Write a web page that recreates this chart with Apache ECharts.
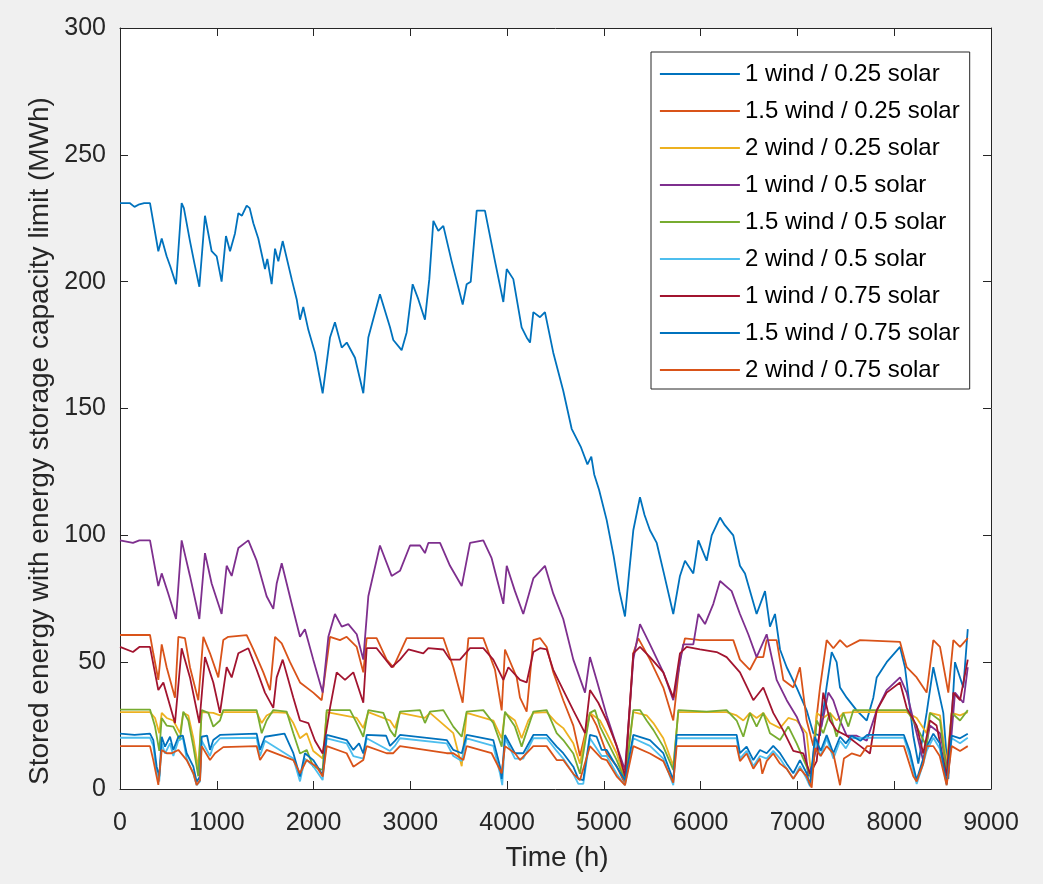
<!DOCTYPE html>
<html>
<head>
<meta charset="utf-8">
<script src="https://cdn.jsdelivr.net/npm/echarts@6/dist/echarts.min.js"></script>
<style>
html,body{margin:0;padding:0;background:#f0f0f0;}
#chart{width:1043px;height:884px;}
</style>
</head>
<body>
<div id="chart"></div>
<script>
const seriesNames = [
  '1 wind / 0.25 solar','1.5 wind / 0.25 solar','2 wind / 0.25 solar',
  '1 wind / 0.5 solar','1.5 wind / 0.5 solar','2 wind / 0.5 solar',
  '1 wind / 0.75 solar','1.5 wind / 0.75 solar','2 wind / 0.75 solar'
];
const xTitle = 'Time (h)';
const yTitle = 'Stored energy with energy storage capacity limit (MWh)';

const w1s025 = [[0,231],[100,231],[150,229.5],[200,230.5],[250,231],[310,231],[396,212],[431,217],[482,210],[520,206],[579,199],[637,231],[660,229],[723,216],[770,207],[820,198],[878,226],[947,212],[999,210],[1050,200],[1095,218],[1137,212],[1188,219],[1223,227],[1260,226],[1309,230],[1340,229],[1378,223],[1429,217],[1498,205],[1522,209],[1567,199],[1602,213],[1636,208],[1681,216],[1774,201],[1826,193],[1860,185],[1894,190],[1946,181],[2015,172],[2094,156],[2170,178],[2221,184],[2291,174],[2343,176],[2428,170],[2514,156],[2566,178],[2686,195],[2790,182],[2824,177],[2910,173],[2962,180],[3024,199],[3083,193],[3151,185],[3196,201],[3238,224],[3289,220],[3341,222],[3427,208],[3541,191],[3582,199],[3624,200],[3686,228],[3771,228],[3875,208],[3961,192],[3996,205],[4064,201],[4150,182],[4202,178],[4237,176],[4271,188],[4340,186],[4391,188],[4477,172],[4580,157],[4667,142],[4760,135],[4830,128],[4870,131],[4900,124],[4950,118],[5029,106],[5100,92],[5160,78],[5218,68],[5260,85],[5304,102],[5373,115],[5420,108],[5476,102],[5546,97],[5620,85],[5717,69],[5786,84],[5838,90],[5924,85],[5976,98],[6062,90],[6114,100],[6200,107],[6250,104],[6337,100],[6406,88],[6458,85],[6578,69],[6665,78],[6716,64],[6768,69],[6820,55],[6889,48],[6992,40],[7095,31],[7164,22],[7233,21],[7300,40],[7354,54],[7405,50],[7440,40],[7509,36],[7612,31],[7716,27],[7784,36],[7819,44],[7922,50],[8060,56],[8111,48],[8197,21],[8249,10],[8335,30],[8404,48],[8507,30],[8559,4],[8628,50],[8714,40],[8760,63]];

const w15s025 = [[0,60.7],[310,60.7],[344,53.5],[396,43],[431,57],[482,48],[568,36],[603,60],[671,59.5],[723,48],[809,35],[861,60],[930,53.5],[1016,44],[1067,58.7],[1119,60],[1309,60.7],[1378,55],[1481,46],[1550,39],[1602,60],[1671,57.4],[1757,50],[1860,42],[1997,38],[2084,35],[2170,60],[2273,58.7],[2342,60],[2446,56],[2514,46],[2549,59.5],[2652,59.5],[2755,51],[2824,48],[2962,59.5],[3341,59.5],[3444,48],[3541,34],[3600,59.5],[3754,59.5],[3875,47],[3944,31],[3978,55],[4099,44],[4133,36],[4202,30.5],[4271,58.7],[4340,59.5],[4409,56],[4477,46],[4580,35],[4684,25],[4753,13],[4856,30],[4925,25],[5029,14],[5132,9],[5218,2],[5304,53.5],[5356,59.4],[5476,51],[5614,40],[5717,27],[5786,51],[5838,59.4],[5993,58.7],[6337,58.7],[6406,51],[6509,47],[6578,52],[6647,52],[6682,58.7],[6785,58.7],[6854,43],[6957,40],[7026,48],[7095,27],[7164,17],[7233,40],[7302,58.7],[7371,55.5],[7440,58.7],[7509,56],[7646,58.7],[8060,58],[8129,48],[8232,44],[8335,38],[8404,58.7],[8473,56],[8559,38],[8611,58.7],[8680,56],[8760,59.5]];

const w2s025 = [[0,30.3],[310,30.3],[362,28],[406,22],[431,30],[482,28],[551,27],[620,22],[654,30],[706,29],[758,20],[809,8],[844,30.3],[964,30],[1033,29],[1067,30.3],[1412,30.3],[1464,26],[1515,29],[1584,30.3],[1722,30],[1791,26],[1860,20],[1929,22],[1997,15],[2094,12],[2136,30.3],[2446,28],[2514,24],[2566,30.3],[2790,27],[2841,24],[2893,30],[3151,28],[3203,30],[3444,22],[3531,9],[3582,30],[3857,27],[3944,20],[3978,30],[4081,27],[4150,20],[4219,27],[4271,30],[4409,30.3],[4512,26],[4580,24],[4684,18],[4753,10],[4856,30],[4960,27],[5029,22],[5132,14],[5218,4],[5304,30.3],[5442,29],[5511,26],[5614,20],[5717,9],[5769,30.3],[6268,30.3],[6372,29],[6441,27],[6509,30],[6578,28],[6647,30],[6716,26],[6820,24],[6906,28],[6992,27],[7095,22],[7147,4],[7199,30],[7267,28],[7336,30],[7405,27],[7474,30],[7578,30.3],[8129,30.3],[8232,28],[8335,22],[8369,30],[8473,29],[8542,10],[8594,30],[8680,29],[8760,30.3]];

const w1s05 = [[0,98],[134,97],[200,98],[310,98],[396,80],[431,85],[499,77],[579,67],[637,98],[723,84],[820,67],[878,93],[947,81],[1050,69],[1102,88],[1154,84],[1223,95],[1326,98],[1412,90],[1515,76],[1584,71],[1619,81],[1671,89],[1774,73],[1860,60],[1911,63],[1997,51],[2094,38],[2153,60],[2221,69],[2291,64],[2359,65],[2446,61],[2514,51],[2566,76],[2686,96],[2807,84],[2893,86],[2997,96],[3100,96],[3151,93],[3186,97],[3307,97],[3410,88],[3531,80],[3617,97],[3754,98],[3840,91],[3961,73],[3996,88],[4081,78],[4167,69],[4271,83],[4391,88],[4477,77],[4580,67],[4684,51],[4805,38],[4856,52],[4925,43],[5029,29],[5132,17],[5218,7.5],[5304,51],[5373,65],[5476,57],[5614,46],[5717,35],[5820,57],[5924,57],[5976,69],[6045,65],[6131,73],[6200,82],[6320,78],[6406,69],[6492,61],[6578,52],[6682,61],[6785,43],[6889,35],[6992,28.5],[7061,22],[7113,5],[7164,11],[7250,25],[7319,38],[7370,35],[7440,27],[7509,21],[7612,21],[7716,19],[7819,31],[7922,39],[8060,44],[8129,38],[8232,22],[8300,11],[8369,25],[8473,22],[8559,6],[8628,38],[8714,34],[8760,48]];

const w15s05 = [[0,31.3],[310,31.3],[362,24.6],[406,15],[431,28],[482,25],[551,24.6],[620,19.3],[654,30.5],[706,27],[758,16.7],[809,5],[844,31.1],[913,30],[964,24.6],[1033,27],[1067,31.1],[1412,31.1],[1464,22],[1515,27],[1584,31.1],[1722,30.5],[1791,22],[1860,14],[1929,15.4],[1997,8.8],[2094,7.5],[2136,31.1],[2377,31.1],[2446,26],[2514,20.6],[2566,31.1],[2721,30],[2790,23.3],[2841,20.6],[2893,30.5],[3100,31.1],[3151,26],[3203,30.5],[3341,31.1],[3444,24.6],[3531,20.6],[3582,30.5],[3754,31.1],[3857,26],[3944,16.7],[3978,30.5],[4081,24.6],[4150,16.7],[4219,24.6],[4271,30.5],[4409,31.1],[4512,22],[4580,19.3],[4684,14],[4753,6],[4856,30],[4908,31.1],[4960,24.6],[5029,19.3],[5132,11.4],[5218,3.5],[5304,31.1],[5373,31.1],[5442,27],[5511,23.3],[5614,16.7],[5717,7.5],[5769,31.1],[6062,30.5],[6268,31.1],[6372,27],[6441,20.6],[6509,30],[6578,24.6],[6647,30],[6716,22],[6820,19.3],[6906,24.6],[6992,18],[7095,8.8],[7147,3.5],[7199,27],[7267,22],[7336,30],[7405,20.6],[7474,30],[7526,24.6],[7578,31.1],[8129,31.1],[8232,24.6],[8335,16.7],[8369,30],[8473,27],[8542,6],[8594,30],[8680,27],[8760,31.1]];

const w2s05 = [[0,20.2],[310,20.2],[344,17],[379,6],[406,3],[431,18],[465,14],[517,18],[551,13],[603,19],[650,20.2],[689,12],[758,6],[792,1.5],[827,3],[844,19],[930,13],[964,17],[1033,20],[1412,20.2],[1447,13],[1498,19],[1791,12],[1860,3],[1911,12],[1997,9],[2094,3.5],[2136,20],[2342,18],[2411,13],[2514,12],[2549,20],[2790,15],[2841,17],[2893,20],[3376,18],[3444,13],[3531,11],[3582,20],[3857,17],[3927,6],[3950,1.5],[3978,20],[4081,12],[4167,12],[4271,20],[4409,20],[4512,15],[4580,12],[4684,6],[4736,2],[4787,2],[4856,20],[4977,13],[5029,13],[5132,6],[5218,1.5],[5304,20],[5476,17],[5614,12],[5717,1.5],[5752,20],[6372,20],[6406,12],[6475,15],[6544,9],[6613,13],[6682,12],[6750,15],[6820,12],[6889,8],[6957,4],[7026,9],[7095,4],[7130,1],[7181,19],[7240,13],[7302,20],[7371,12],[7440,19],[7500,16],[7560,20],[7720,20.2],[8100,20.2],[8160,13],[8232,2],[8300,10],[8335,15],[8404,20.2],[8470,16],[8542,1.5],[8594,20],[8680,18],[8760,20.2]];

const w1s075 = [[0,56],[134,54],[200,56],[310,56],[396,39],[448,42],[568,26],[637,55.5],[723,44],[820,26],[878,52],[964,42],[1033,30],[1102,48],[1154,44],[1223,53.5],[1326,55.5],[1412,47],[1498,38],[1584,32],[1619,44],[1681,51],[1791,36],[1860,27],[1946,26],[2015,19],[2094,14],[2170,32],[2239,46],[2325,43],[2411,46],[2514,34],[2549,55.5],[2652,55.5],[2807,48],[2893,51],[2980,55],[3134,53.5],[3186,55.5],[3341,55],[3410,51],[3513,51],[3617,55.5],[3754,55.5],[3857,51],[3961,43],[4013,48],[4133,43],[4202,42],[4271,54],[4340,55.5],[4409,55],[4477,47],[4580,39],[4684,31],[4805,22],[4856,39],[4942,34],[5029,27],[5132,17],[5218,5],[5304,53.5],[5373,56],[5476,52],[5614,46],[5717,36],[5786,53.5],[5855,56],[5993,55],[6165,54],[6268,52],[6406,46],[6544,35],[6647,40],[6750,30],[6854,23],[6957,15],[7061,14],[7130,6],[7199,11],[7267,38],[7336,27],[7405,23],[7509,21],[7646,17],[7749,14],[7819,31],[7922,38],[8060,42],[8129,32],[8232,25],[8300,14],[8369,27],[8438,25],[8542,5],[8611,38],[8680,35],[8760,51]];

const w15s075 = [[0,21.8],[150,21.3],[310,21.8],[344,19.3],[379,8.8],[406,4.9],[431,20.6],[465,16.7],[517,20.6],[551,15.4],[603,20.6],[650,21],[689,14.1],[758,8.8],[792,2.9],[827,4.9],[844,20.6],[900,21],[930,15.4],[964,19.3],[1033,21.3],[1412,21.8],[1447,15.4],[1498,20.6],[1700,21.8],[1791,14.1],[1860,4.9],[1911,14.1],[1997,11.4],[2094,5.5],[2136,21.3],[2342,19.3],[2411,15.4],[2470,18],[2514,14],[2549,21.3],[2750,21],[2790,17],[2841,19],[2893,21.3],[3376,19.3],[3444,15.4],[3531,14.1],[3582,21.3],[3857,19.3],[3927,8.8],[3944,4],[3978,21.3],[4081,14.1],[4167,14.1],[4271,21.3],[4409,21.3],[4512,16.7],[4580,14.1],[4684,8.8],[4736,4],[4787,3.5],[4856,21.3],[4925,20.6],[4977,15.4],[5029,15.4],[5132,8.8],[5218,3.5],[5304,21.3],[5476,19.3],[5614,14.1],[5717,3.5],[5752,21.3],[6372,21.3],[6406,14.1],[6475,16.7],[6544,11.4],[6613,15.4],[6682,14.1],[6750,17],[6820,14.1],[6889,10],[6957,6.2],[7026,11.4],[7095,6.2],[7130,1.5],[7181,20.6],[7240,15],[7302,21.3],[7371,14.1],[7440,20.6],[7500,18],[7560,21],[7650,19],[7720,21.3],[8100,21.3],[8160,15],[8232,3.5],[8300,12],[8335,16.7],[8404,21.8],[8470,18],[8542,2],[8594,21],[8680,20],[8760,21.8]];

const w2s075 = [[0,16.9],[310,16.9],[344,11.4],[396,1.6],[431,15.4],[482,14.1],[534,14.1],[603,15.4],[689,11.4],[758,6.2],[792,1.6],[827,3.5],[844,16.9],[930,11.4],[982,14.1],[1067,16.5],[1412,16.9],[1447,11.4],[1515,15.4],[1791,11.4],[1860,6.2],[1929,11.4],[2032,8.8],[2094,4.9],[2136,16.9],[2342,14.1],[2411,8.8],[2514,11.4],[2549,16.9],[2755,14.1],[2824,14.1],[2893,16.9],[3376,14.1],[3444,14.1],[3548,11.4],[3582,16.9],[3840,14.1],[3944,6.2],[3978,16.9],[4081,14.1],[4133,11.4],[4271,16.9],[4409,16.9],[4512,11.4],[4580,11.4],[4684,6],[4753,3.5],[4856,16.9],[4977,12],[5029,11.4],[5132,5],[5218,1.5],[5304,16.9],[5476,14],[5614,11],[5717,2.5],[5752,16.9],[6372,16.9],[6406,11],[6475,14],[6544,8],[6613,12],[6637,6],[6682,11],[6750,14],[6820,10],[6889,8],[6957,4],[7026,8],[7095,5],[7147,0.5],[7181,16],[7240,13],[7302,16.9],[7371,14],[7440,1.5],[7480,12],[7560,14],[7650,13],[7720,16.9],[8100,16.9],[8197,5],[8232,3],[8300,10],[8335,16.9],[8404,16.9],[8470,13],[8542,1.5],[8594,16.9],[8680,15],[8760,16.9]];

const seriesData = [w1s025, w15s025, w2s025, w1s05, w15s05, w2s05, w1s075, w15s075, w2s075];
const lineColors = ['#0072BD','#D95319','#EDB120','#7E2F8E','#77AC30','#4DBEEE','#A2142F','#0072BD','#D95319'];

const chart = echarts.init(document.getElementById('chart'), null, {renderer:'canvas'});
const axisCol = '#262626';
const font = 'Liberation Sans, Arial, Helvetica, sans-serif';
const tickFont = 25;

function xAx(pos, labels){
  return {
    type:'value', position:pos, min:0, max:9000, interval:1000,
    axisLine:{show:true, onZero:false, lineStyle:{color:axisCol, width:1}},
    axisTick:{show:true, inside:true, length:8, lineStyle:{color:axisCol, width:1}},
    axisLabel:{show:labels, margin:22, color:axisCol, fontSize:tickFont, fontFamily:font, formatter:(v)=>String(v)},
    splitLine:{show:false}
  };
}
function yAx(pos, labels){
  return {
    type:'value', position:pos, min:0, max:300, interval:50,
    axisLine:{show:true, onZero:false, lineStyle:{color:axisCol, width:1}},
    axisTick:{show:true, inside:true, length:8, lineStyle:{color:axisCol, width:1}},
    axisLabel:{show:labels, margin:14, color:axisCol, fontSize:tickFont, fontFamily:font, formatter:(v)=>String(v)},
    splitLine:{show:false}
  };
}

const option = {
  backgroundColor:'#f0f0f0',
  animation:false,
  grid:{left:120, top:28, width:871, height:761, show:true, backgroundColor:'#ffffff', borderWidth:0, containLabel:false},
  xAxis:[xAx('bottom', true), xAx('top', false)],
  yAxis:[yAx('left', true), yAx('right', false)],
  legend:{
    show:true,
    orient:'vertical', left:651, top:52,
    backgroundColor:'#ffffff', borderColor:axisCol, borderWidth:1,
    padding:[9, 10, 6, 8],
    itemWidth:80, itemHeight:14, itemGap:11,
    itemStyle:{opacity:0},
    lineStyle:{width:1.8},
    textStyle:{color:'#000', fontSize:24, fontFamily:font, lineHeight:26},
    data: seriesNames
  },
  graphic:[
    {type:'text', x:557, y:858, style:{text:xTitle, fill:axisCol, font:'28px ' + font, textAlign:'center', textVerticalAlign:'middle'}},
    {type:'text', x:40, y:441, rotation:Math.PI/2, style:{text:yTitle, fill:axisCol, font:'28px ' + font, textAlign:'center', textVerticalAlign:'middle'}}
  ],
  series: seriesNames.map((n, i) => ({
    name:n, type:'line', xAxisIndex:0, yAxisIndex:0,
    data:seriesData[i], showSymbol:false, symbol:'none',
    lineStyle:{color:lineColors[i], width:1.8},
    itemStyle:{color:lineColors[i]},
    emphasis:{disabled:true}
  }))
};
chart.setOption(option);
</script>
</body>
</html>
